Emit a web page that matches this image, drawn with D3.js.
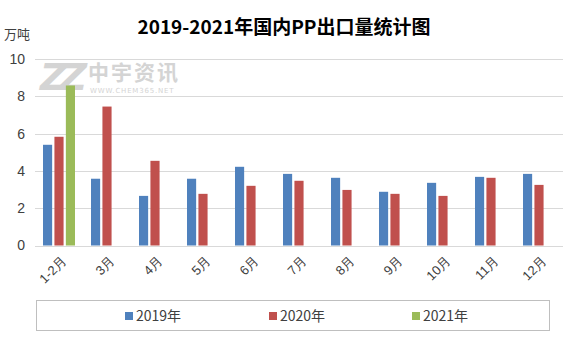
<!DOCTYPE html>
<html><head><meta charset="utf-8">
<script src="https://cdn.jsdelivr.net/npm/d3@7"></script>
<style>body{margin:0;background:#fff;} svg{display:block;font-family:"Noto Sans CJK SC","Microsoft YaHei",sans-serif;}</style>
</head><body>
<svg id="c" width="567" height="340"></svg>
<script>
const categories = ["1-2月","3月","4月","5月","6月","7月","8月","9月","10月","11月","12月"];
const seriesNames = ["2019年","2020年","2021年"];
const values2019 = [5.40,3.58,2.66,3.58,4.22,3.84,3.63,2.88,3.36,3.68,3.84];
const values2020 = [5.83,7.45,4.54,2.77,3.20,3.47,2.98,2.77,2.66,3.63,3.25];
const values2021 = [8.58,null,null,null,null,null,null,null,null,null,null];
const yTicks = [0,2,4,6,8,10];
const colors = ["#4f81bd","#c0504d","#9bbb59"];

const allSeries = [values2019, values2020, values2021];
const svg = d3.select("#c");
const L = 35, R = 563, T = 59, B = 245.5;

const x = d3.scaleBand().domain(categories).range([L, R]).padding(0);
const xs = d3.scaleBand().domain(seriesNames).range([-16, 16]).paddingInner(0.2);
const y = d3.scaleLinear().domain([0, 10]).range([B, T]);

// gridlines
svg.append("g").selectAll("line").data(yTicks).join("line")
  .attr("x1", L).attr("x2", R)
  .attr("y1", d => Math.round(y(d)) + 0.5).attr("y2", d => Math.round(y(d)) + 0.5)
  .attr("stroke", "#d9d9d9").attr("stroke-width", 1);

// watermark
const wm = svg.append("g").attr("fill", "#d4d4d4");
wm.append("text").attr("x", 40).attr("y", 90).attr("font-size", 38).attr("font-weight", 900)
  .attr("font-family", "DejaVu Sans, sans-serif").attr("letter-spacing", -8).attr("font-style","italic").text("ZZ");
wm.append("text").attr("x", 88).attr("y", 80).attr("font-size", 21).attr("font-weight", 700)
  .attr("letter-spacing", 2).text("中宇资讯");
wm.append("text").attr("x", 90).attr("y", 93).attr("font-size", 7)
  .attr("font-family", "DejaVu Sans, sans-serif").attr("letter-spacing", 0.8).text("WWW.CHEM365.NET");

// bars
const barData = [];
allSeries.forEach((vals, si) => vals.forEach((v, ci) => {
  if (v != null) barData.push({cat: categories[ci], s: seriesNames[si], v, si});
}));
svg.append("g").selectAll("rect").data(barData).join("rect")
  .attr("x", d => x(d.cat) + x.bandwidth() / 2 + xs(d.s))
  .attr("width", xs.bandwidth())
  .attr("y", d => y(d.v))
  .attr("height", d => B - y(d.v))
  .attr("fill", d => colors[d.si]);

// y axis labels
const yAxis = d3.axisLeft(y).tickValues(yTicks).tickSize(0).tickPadding(0);
const ga = svg.append("g").attr("transform", `translate(25,0)`).call(yAxis);
ga.select(".domain").remove();
ga.selectAll("text").attr("font-size", 14).attr("fill", "#404040")
  .attr("font-family", "Liberation Sans, Arial, sans-serif");

// x axis labels
const xAxis = d3.axisBottom(x).tickSize(0).tickPadding(0);
const gx = svg.append("g").attr("transform", `translate(0,${B})`).call(xAxis);
gx.select(".domain").remove();
gx.selectAll("text")
  .attr("font-size", 13).attr("fill", "#404040")
  .attr("text-anchor", "end")
  .attr("transform", "translate(5,13) rotate(-45)")
  .attr("y", 0).attr("dy", "0.35em");

// title
svg.append("text").attr("x", 284).attr("y", 34).attr("text-anchor", "middle")
  .attr("font-size", 19).attr("font-weight", 700).attr("fill", "#000")
  .text("2019-2021年国内PP出口量统计图");
svg.append("text").attr("x", 4).attr("y", 39).attr("font-size", 13).attr("fill", "#404040").text("万吨");

// legend
svg.append("rect").attr("x", 36.5).attr("y", 300.5).attr("width", 513).attr("height", 30)
  .attr("fill", "none").attr("stroke", "#bfbfbf");
const legX = [125, 269, 412];
const lg = svg.append("g").selectAll("g").data(seriesNames).join("g")
  .attr("transform", (d, i) => `translate(${legX[i]},316)`);
lg.append("rect").attr("x", 0).attr("y", -4).attr("width", 8).attr("height", 8).attr("fill", (d, i) => colors[i]);
lg.append("text").attr("x", 11).attr("y", 0).attr("dy", "0.35em").attr("font-size", 14).attr("fill", "#404040").text(d => d);
</script>
</body></html>
